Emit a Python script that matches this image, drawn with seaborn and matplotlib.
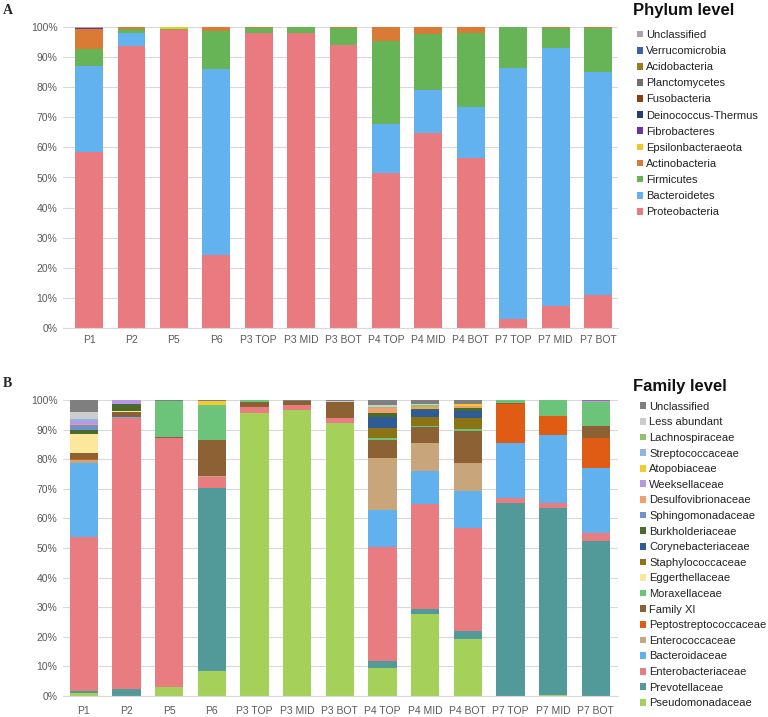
import numpy as np
import matplotlib
matplotlib.use("Agg")
import matplotlib.pyplot as plt
from matplotlib.patches import Patch
import seaborn as sns

samples = ["P1", "P2", "P5", "P6", "P3 TOP", "P3 MID", "P3 BOT",
           "P4 TOP", "P4 MID", "P4 BOT", "P7 TOP", "P7 MID", "P7 BOT"]

# ---------------- Phylum level (bottom -> top of stack) ----------------
phylum_names = ["Proteobacteria", "Bacteroidetes", "Firmicutes", "Actinobacteria",
                "Epsilonbacteraeota", "Fibrobacteres", "Deinococcus-Thermus",
                "Fusobacteria", "Planctomycetes", "Acidobacteria",
                "Verrucomicrobia", "Unclassified"]
proteobacteria = [58.5, 93.8, 99.0, 24.3, 98.1, 98.2, 94.2, 51.4, 64.7, 56.6, 2.8, 7.2, 10.8]
bacteroidetes = [28.7, 4.4, 0.0, 61.8, 0.0, 0.0, 0.0, 16.4, 14.5, 16.9, 83.7, 86.0, 74.4]
firmicutes = [5.5, 1.4, 0.3, 12.6, 1.7, 1.8, 5.5, 27.8, 18.5, 24.5, 13.5, 6.6, 14.6]
actinobacteria = [6.7, 0.4, 0.2, 1.3, 0.2, 0.0, 0.3, 4.4, 2.3, 2.0, 0.0, 0.2, 0.2]
epsilonbacteraeota = [0, 0, 0.5, 0, 0, 0, 0, 0, 0, 0, 0, 0, 0]
fibrobacteres = [0.4, 0, 0, 0, 0, 0, 0, 0, 0, 0, 0, 0, 0]
deinococcus = [0, 0, 0, 0, 0, 0, 0, 0, 0, 0, 0, 0, 0]
fusobacteria = [0, 0, 0, 0, 0, 0, 0, 0, 0, 0, 0, 0, 0]
planctomycetes = [0, 0, 0, 0, 0, 0, 0, 0, 0, 0, 0, 0, 0]
acidobacteria = [0, 0, 0, 0, 0, 0, 0, 0, 0, 0, 0, 0, 0]
verrucomicrobia = [0, 0, 0, 0, 0, 0, 0, 0, 0, 0, 0, 0, 0]
phylum_unclassified = [0.2, 0, 0, 0, 0, 0, 0, 0, 0, 0, 0, 0, 0]
phylum_values = [proteobacteria, bacteroidetes, firmicutes, actinobacteria,
                 epsilonbacteraeota, fibrobacteres, deinococcus, fusobacteria,
                 planctomycetes, acidobacteria, verrucomicrobia, phylum_unclassified]
phylum_colors = ["#e97b80", "#62b2f0", "#66b456", "#d97b35", "#f5c32c", "#7030a0",
                 "#283c7a", "#8b3d14", "#707070", "#9c7a1e", "#3a62a8", "#a6a6a6"]

# ---------------- Family level (bottom -> top of stack) ----------------
family_names = ["Pseudomonadaceae", "Prevotellaceae", "Enterobacteriaceae",
                "Bacteroidaceae", "Enterococcaceae", "Peptostreptococcaceae",
                "Family XI", "Moraxellaceae", "Eggerthellaceae", "Staphylococcaceae",
                "Corynebacteriaceae", "Burkholderiaceae", "Sphingomonadaceae",
                "Desulfovibrionaceae", "Weeksellaceae", "Atopobiaceae",
                "Streptococcaceae", "Lachnospiraceae", "Less abundant", "Unclassified"]
pseudomonadaceae = [1.0, 0, 2.9, 8.4, 95.7, 96.6, 92.3, 9.6, 27.7, 19.3, 0, 0.4, 0]
prevotellaceae = [0.7, 2.5, 0, 61.9, 0, 0, 0, 2.3, 1.7, 2.7, 65.3, 63.1, 52.4]
enterobacteriaceae = [51.9, 91.3, 84.1, 3.7, 1.8, 1.6, 1.6, 38.6, 35.5, 34.8, 1.7, 1.6, 2.6]
bacteroidaceae = [25.2, 0.5, 0, 0, 0, 0, 0, 12.3, 11.2, 12.6, 18.4, 23.1, 21.9]
enterococcaceae = [1.0, 0, 0, 0.3, 0, 0, 0, 17.5, 9.5, 9.2, 0, 0, 0]
peptostreptococcaceae = [0.4, 0, 0, 0, 0, 0, 0, 0, 0, 0, 13.2, 6.5, 10.2]
family_xi = [2.0, 1.5, 0.5, 12.2, 1.7, 1.6, 5.5, 6.3, 5.3, 11.0, 0.4, 0, 4.2]
moraxellaceae = [0, 0, 12.0, 11.8, 0.8, 0, 0, 0.7, 0.4, 0.5, 1.0, 5.3, 8.1]
eggerthellaceae = [6.2, 0.55, 0, 0, 0, 0, 0, 0, 0, 0, 0, 0, 0]
staphylococcaceae = [0, 0, 0, 0, 0, 0, 0, 3.3, 3.0, 3.9, 0, 0, 0]
corynebacteriaceae = [0, 0, 0, 0, 0, 0, 0, 3.8, 2.2, 2.3, 0, 0, 0]
burkholderiaceae = [1.3, 2.25, 0, 0, 0, 0, 0, 1.1, 0.5, 0.9, 0, 0, 0]
sphingomonadaceae = [1.9, 0, 0, 0, 0, 0, 0, 0, 0, 0, 0, 0, 0]
desulfovibrionaceae = [0.4, 0, 0, 0, 0, 0, 0, 1.7, 0.7, 0.8, 0, 0, 0]
weeksellaceae = [0.9, 1.35, 0, 0, 0, 0, 0, 0, 0, 0, 0, 0, 0.3]
atopobiaceae = [0, 0, 0, 1.3, 0, 0, 0, 0, 0, 0.5, 0, 0, 0]
streptococcaceae = [0.8, 0, 0, 0, 0, 0, 0, 0, 0, 0, 0, 0, 0]
lachnospiraceae = [0, 0, 0, 0, 0, 0, 0, 0.3, 0.6, 0, 0, 0, 0]
less_abundant = [2.1, 0, 0.2, 0, 0, 0, 0.3, 0.8, 0.3, 0, 0, 0, 0]
family_unclassified = [4.2, 0, 0.3, 0.4, 0, 0.2, 0.3, 1.7, 1.4, 1.5, 0, 0, 0.3]
family_values = [pseudomonadaceae, prevotellaceae, enterobacteriaceae, bacteroidaceae,
                 enterococcaceae, peptostreptococcaceae, family_xi, moraxellaceae,
                 eggerthellaceae, staphylococcaceae, corynebacteriaceae,
                 burkholderiaceae, sphingomonadaceae, desulfovibrionaceae,
                 weeksellaceae, atopobiaceae, streptococcaceae, lachnospiraceae,
                 less_abundant, family_unclassified]
family_colors = ["#a5d15a", "#529a9a", "#e87c80", "#61b1ef", "#c8a57a", "#e05c14",
                 "#8c6134", "#6cc47a", "#fde79a", "#8c7316", "#2f5b97", "#4b6b2a",
                 "#7190d0", "#f0a070", "#b898e6", "#f5c830", "#8fb4e0", "#93c26a",
                 "#cccccc", "#7f7f7f"]

sns.set_theme(style="white")
plt.rcParams["font.family"] = ["Liberation Sans", "DejaVu Sans"]

W, H = 768, 717
fig = plt.figure(figsize=(W / 100, H / 100), dpi=100)
ax1 = fig.add_axes([63 / W, 1 - 327.7 / H, 555 / W, 300.4 / H])
ax2 = fig.add_axes([63 / W, 1 - 696 / H, 555 / W, 296 / H])

TICK = "#595959"
GRID = "#d9d9d9"


def stacked(ax, values, colors, width, xlim, xpad):
    cum = np.zeros(len(samples))
    tops = []
    for v in values:
        cum = cum + np.asarray(v, dtype=float)
        tops.append(cum.copy())
    for top, col in reversed(list(zip(tops, colors))):
        sns.barplot(x=samples, y=top, order=samples, color=col, saturation=1,
                    width=width, errorbar=None, linewidth=0, ax=ax)
    ax.set_ylim(0, 100)
    ax.set_xlim(*xlim)
    ax.set_yticks(np.arange(0, 101, 10))
    ax.set_yticklabels([f"{t}%" for t in range(0, 101, 10)])
    ax.set_xlabel("")
    ax.set_ylabel("")
    ax.yaxis.grid(True, color=GRID, linewidth=0.8)
    ax.set_axisbelow(True)
    for s in ["top", "right", "left"]:
        ax.spines[s].set_visible(False)
    ax.spines["bottom"].set_color(GRID)
    ax.spines["bottom"].set_linewidth(0.8)
    ax.tick_params(axis="both", length=0, labelsize=7.5, labelcolor=TICK)
    ax.tick_params(axis="x", pad=xpad)
    ax.tick_params(axis="y", pad=4)


stacked(ax1, phylum_values, phylum_colors, 0.655, (-0.613, 12.47), 5)
stacked(ax2, family_values, family_colors, 0.663, (-0.49, 12.52), 7)


def legend(ax, names, colors, x_px, ytop_px, spacing):
    handles = [Patch(facecolor=c, edgecolor="none") for c in colors][::-1]
    return ax.legend(handles, names[::-1], loc="upper left",
                     bbox_to_anchor=(x_px / W, 1 - ytop_px / H), bbox_transform=fig.transFigure,
                     frameon=False, borderpad=0, borderaxespad=0, handlelength=0.55,
                     handleheight=0.55, handletextpad=0.3, labelspacing=spacing,
                     fontsize=8, labelcolor="#222222")


legend(ax1, phylum_names, phylum_colors, 637, 30, 0.55)
legend(ax2, family_names, family_colors, 640, 401.7, 0.505)

fig.text(633 / W, 1 - 15 / H, "Phylum level", fontsize=12, fontweight="bold",
         va="baseline", ha="left", color="#111111")
fig.text(633 / W, 1 - 391 / H, "Family level", fontsize=12, fontweight="bold",
         va="baseline", ha="left", color="#111111")
fig.text(3 / W, 1 - 14 / H, "A", fontsize=10, fontweight="bold", va="baseline",
         ha="left", family="Liberation Serif")
fig.text(3 / W, 1 - 387 / H, "B", fontsize=10, fontweight="bold", va="baseline",
         ha="left", family="Liberation Serif")

fig.savefig("out.png", dpi=100)
